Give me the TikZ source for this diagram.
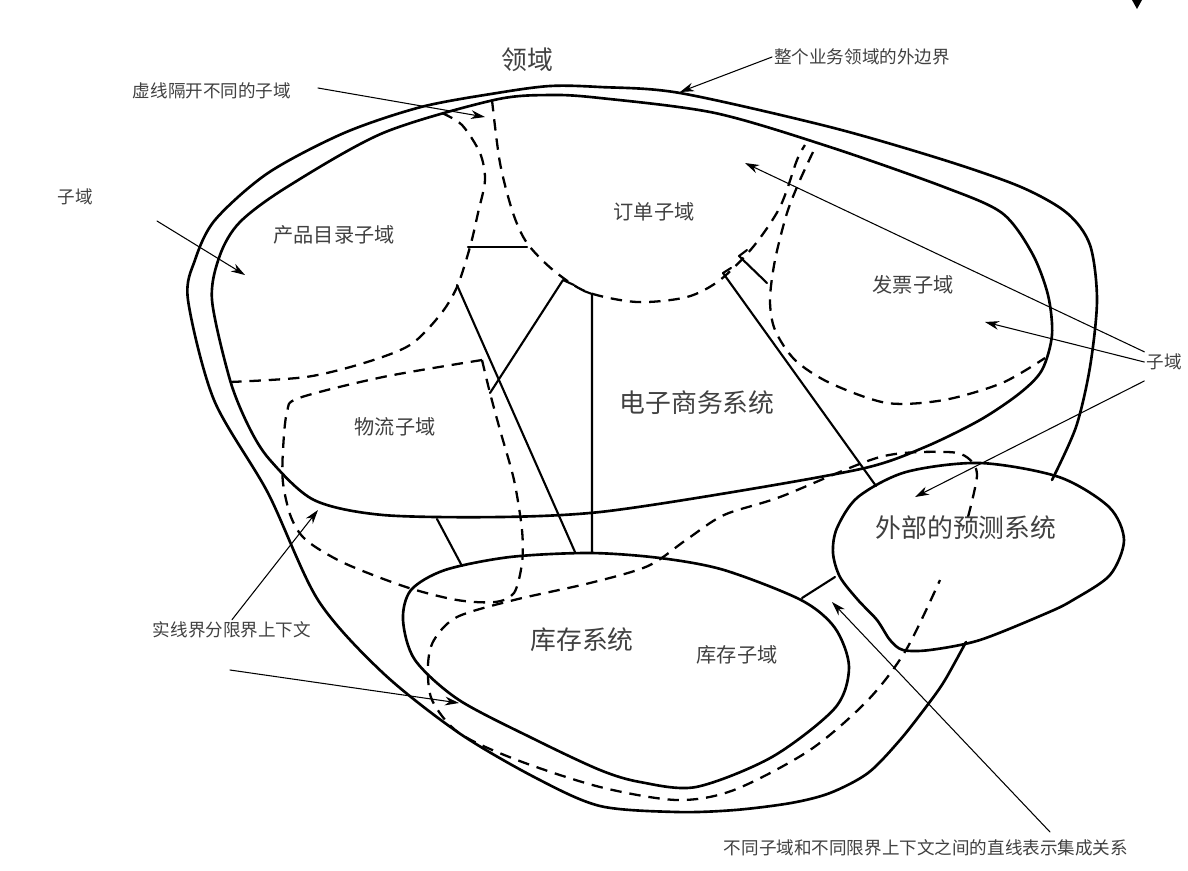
\documentclass[tikz,border=0pt]{standalone}
\usepackage{fontspec}
\setmainfont{Noto Sans CJK SC}
\usetikzlibrary{arrows.meta}
\begin{document}
\begin{tikzpicture}[x=0.02cm,y=-0.02cm,line join=round,line cap=round,>={Stealth[length=8pt,width=5pt]}]
\tikzset{every node/.style={text=black!75,inner sep=1pt},
  bnd/.style={line width=1.5pt},
  sub/.style={line width=1.3pt,dash pattern=on 6.5pt off 4.5pt,line cap=butt},
  link/.style={line width=1.2pt},
  note/.style={line width=0.6pt,->},
  big/.style={font=\fontsize{14.7}{16}\selectfont},
  mid/.style={font=\fontsize{11.5}{13}\selectfont},
  small/.style={font=\fontsize{10}{12}\selectfont}}
\useasboundingbox (0,0) rectangle (1188,870);
% domain and bounded contexts
\draw[bnd] plot[smooth] coordinates {(966,642) (945,680) (929,703) (900,740) (868,773) (830,793) (791,803) (735,810) (677,812) (600,806) (536,778) (459,733) (383,673) (318,600) (268,493) (214,400) (188,300) (195,260) (215,220) (268,173) (344,133) (421,107) (497,93) (550,86) (600,87) (680,93) (830,127) (944,160) (1021,187) (1067,213) (1090,245) (1097,300) (1090,367) (1076,427) (1052,480)};
\draw[bnd] plot[smooth cycle] coordinates {(600,98) (715,113) (830,147) (944,187) (1002,213) (1032,253) (1048,295) (1052,335) (1042,370) (1020,393) (980,420) (925,447) (865,468) (733,492) (600,512) (500,517) (383,515) (314,500) (270,460) (249,427) (230,380) (212,300) (220,255) (240,222) (287,187) (383,133) (494,100) (550,95)};
\draw[bnd] plot[smooth cycle] coordinates {(590,553) (660,558) (724,570) (801,600) (835,628) (849,667) (835,708) (772,757) (696,787) (640,782) (600,770) (536,740) (459,700) (415,660) (403,620) (411,590) (445,570) (510,557)};
\draw[bnd] plot[smooth cycle] coordinates {(980,463) (1059,477) (1109,507) (1124,540) (1110,575) (1073,600) (1047,613) (980,640) (930,650) (903,650) (890,640) (877,620) (858,600) (840,577) (833,553) (837,528) (858,497) (906,472)};
% subdomains
\draw[sub] plot[smooth] coordinates {(492,100) (500,163) (513,213) (527,243) (553,270) (587,292) (637,302) (687,297) (720,280) (753,247) (780,207) (797,160) (805,145)};
\draw[sub] plot[smooth] coordinates {(442,113) (462,125) (480,153) (485,180) (478,213) (470,247) (457,287) (440,315) (410,345) (364,363) (306,377) (230,382)};
\draw[sub] plot[smooth] coordinates {(813,152) (800,180) (787,213) (775,260) (770,300) (775,330) (795,360) (830,383) (887,403) (944,400) (1002,383) (1045,358)};
\draw[sub] plot[smooth] coordinates {(482,360) (490,393) (500,430) (514,480) (522,530) (522,563) (514,593) (495,602) (457,600) (406,587) (344,563) (306,540) (291,517) (283,483) (283,450) (287,412) (299,398) (383,377) (482,360)};
\draw[sub] plot[smooth] coordinates {(968,517) (977,475) (968,458) (947,452) (880,457) (780,497) (724,515) (686,540) (648,566) (590,583) (514,600) (457,617) (434,640) (428,665) (432,700) (459,733) (517,760) (600,787) (677,800) (734,790) (810,750) (868,700) (906,650) (940,580)};
% integration lines
\draw[link] (457,285) -- (575,552);
\draw[link] (490,393) -- (563,280) -- (574,285);
\draw[link] (584,291) -- (592,294) -- (592,552);
\draw[link] (731,268) -- (723,273) -- (876,486);
\draw[link] (747,250) -- (739,256) -- (767,283);
\draw[link] (468,247) -- (527,247);
\draw[link] (437,519) -- (462,566);
\draw[link] (802,598) -- (835,577);
% labels
\node[big] (domain) at (527,60) {领域};
\node[small] (bound) at (862,57) {整个业务领域的外边界};
\node[small] (dashnote) at (212,91) {虚线隔开不同的子域};
\node[small] (sdL) at (75,197) {子域};
\node[mid] (catalog) at (334,235) {产品目录子域};
\node[mid] (order) at (654,212) {订单子域};
\node[mid] (invoice) at (913,285) {发票子域};
\node[small] (sdR) at (1164,362) {子域};
\node[big] (ecom) at (697,403) {电子商务系统};
\node[mid] (logist) at (395,427) {物流子域};
\node[big] (forecast) at (966,528) {外部的预测系统};
\node[big] (stock) at (582,640) {库存系统};
\node[mid] (stocksd) at (737,655) {库存子域};
\node[small] (ctxnote) at (232,630) {实线界分限界上下文};
\node[small] (intnote) at (926,848) {不同子域和不同限界上下文之间的直线表示集成关系};
% pointers
\coordinate (tBound) at (680,92);
\coordinate (sDash) at (318,88);
\coordinate (tDash) at (485,117);
\coordinate (sSdL) at (157,221);
\coordinate (tSdL) at (245,275);
\coordinate (tOrder) at (745,163);
\coordinate (tInvoice) at (985,322);
\coordinate (tInv2) at (915,497);
\coordinate (tCtx) at (318,510);
\coordinate (sCtx2) at (230,670);
\coordinate (tCtx2) at (459,703);
\coordinate (sInt) at (1050,832);
\coordinate (tInt) at (832,602);
\draw[note] (bound.west) -- (tBound);
\draw[note] (sDash) -- (tDash);
\draw[note] (sSdL) -- (tSdL);
\draw[note] (sdR.north west) -- (tOrder);
\draw[note] (sdR.west) -- (tInvoice);
\draw[note] ([yshift=-5pt]sdR.south west) -- (tInv2);
\draw[note] (ctxnote.north) -- (tCtx);
\draw[note] (sCtx2) -- (tCtx2);
\draw[note] (sInt) -- (tInt);
\fill (1132,0) -- (1142,0) -- (1137,9) -- cycle;
\end{tikzpicture}
\end{document}
